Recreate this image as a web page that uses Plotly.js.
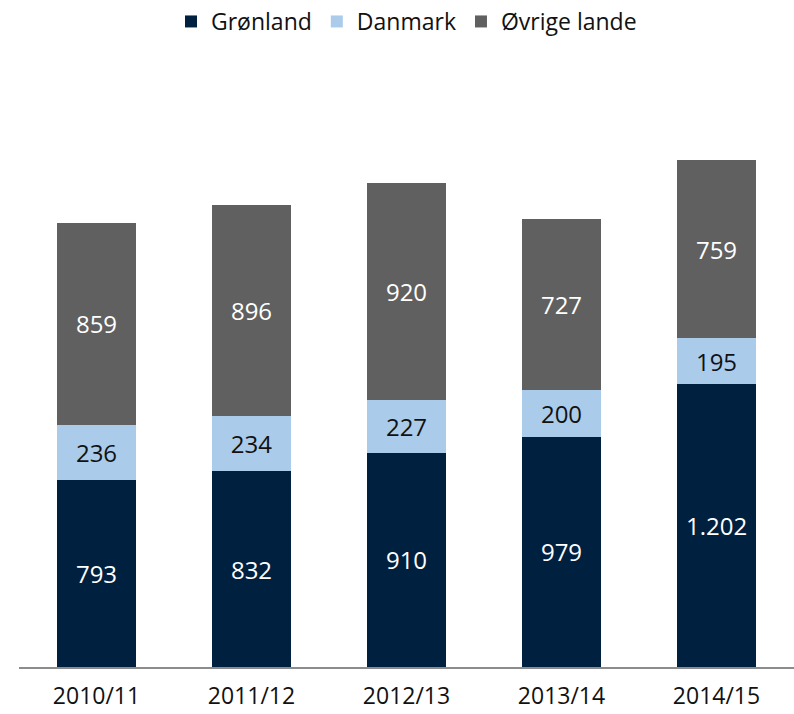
<!DOCTYPE html>
<html>
<head>
<meta charset="utf-8">
<script src="https://cdn.plot.ly/plotly-3.0.1.min.js"></script>
<style>html,body{margin:0;padding:0;background:#fff;}#chart{width:794px;height:714px;}</style>
</head>
<body>
<div id="chart"></div>
<script>
var categories = ["2010/11", "2011/12", "2012/13", "2013/14", "2014/15"];
var gronland = [793, 832, 910, 979, 1202];
var danmark = [236, 234, 227, 200, 195];
var ovrige = [859, 896, 920, 727, 759];
var seriesNames = ["Grønland", "Danmark", "Øvrige lande"];

var FONT = "Open Sans, Liberation Sans, sans-serif";

function mk(name, vals, color, txtColor) {
  return {
    type: "bar",
    name: name,
    x: categories,
    y: vals,
    marker: {color: color, line: {width: 0}},
    texttemplate: "%{y:,}",
    textposition: "inside",
    insidetextanchor: "middle",
    textangle: 0,
    constraintext: "none",
    insidetextfont: {family: FONT, size: 24, color: txtColor},
    hoverinfo: "skip"
  };
}

var data = [
  mk(seriesNames[0], gronland, "#002040", "#ffffff"),
  mk(seriesNames[1], danmark, "#abcbeb", "#111111"),
  mk(seriesNames[2], ovrige, "#606060", "#ffffff")
];

var layout = {
  width: 794,
  height: 714,
  barmode: "stack",
  bargap: 0.486,
  separators: ",.",
  margin: {l: 19, r: 0, t: 60, b: 47, pad: 0},
  paper_bgcolor: "#ffffff",
  plot_bgcolor: "#ffffff",
  font: {family: FONT, size: 23, color: "#111111"},
  showlegend: true,
  legend: {
    orientation: "h",
    x: 0.5, xanchor: "center",
    y: 1.0, yref: "container", yanchor: "top",
    font: {family: FONT, size: 23, color: "#111111"},
    traceorder: "normal",
    itemwidth: 30
  },
  xaxis: {
    type: "category",
    showline: true,
    linecolor: "#8c8c8c",
    linewidth: 1.5,
    ticks: "",
    ticklabelstandoff: 8,
    showgrid: false,
    zeroline: false,
    tickfont: {family: FONT, size: 23, color: "#111111"},
    fixedrange: true
  },
  yaxis: {
    range: [0, 2580],
    visible: false,
    showgrid: false,
    zeroline: false,
    fixedrange: true
  }
};

Plotly.newPlot("chart", data, layout, {displayModeBar: false, staticPlot: true});
</script>
</body>
</html>
